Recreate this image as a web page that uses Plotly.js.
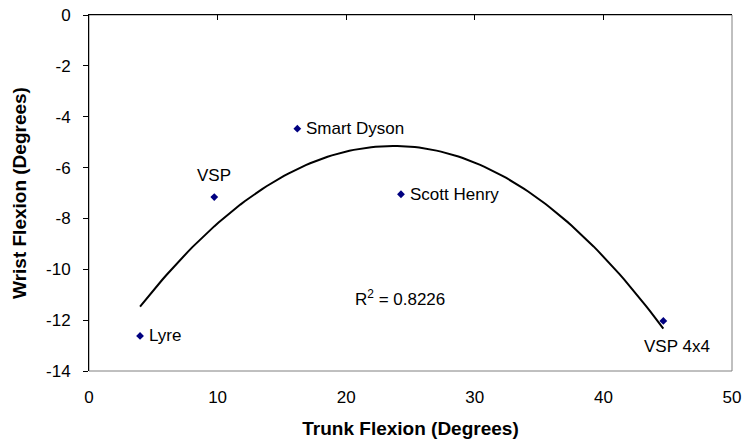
<!DOCTYPE html>
<html><head><meta charset="utf-8">
<script src="https://cdn.plot.ly/plotly-3.0.1.min.js"></script>
<style>html,body{margin:0;padding:0;background:#fff}#chart{width:745px;height:441px}</style>
</head><body><div id="chart"></div>
<script>
// Data
const labels = ["Lyre", "VSP", "Smart Dyson", "Scott Henry", "VSP 4x4"];
const trunkFlexion = [3.97, 9.74, 16.2, 24.26, 44.66];
const wristFlexion = [-12.62, -7.16, -4.47, -7.05, -12.03];
const r2Text = "R<sup>2</sup> = 0.8226";
const xTicks = [0, 10, 20, 30, 40, 50];
const yTicks = [0, -2, -4, -6, -8, -10, -12, -14];

// Second-order polynomial trend (least squares) from the data
function polyFit2(xs, ys) {
  let S = [0,0,0,0,0], T = [0,0,0];
  for (let i = 0; i < xs.length; i++) {
    let p = 1;
    for (let k = 0; k < 5; k++) { S[k] += p; if (k < 3) T[k] += p * ys[i]; p *= xs[i]; }
  }
  const A = [[S[0],S[1],S[2],T[0]],[S[1],S[2],S[3],T[1]],[S[2],S[3],S[4],T[2]]];
  for (let c = 0; c < 3; c++) {
    for (let r = c + 1; r < 3; r++) {
      const f = A[r][c] / A[c][c];
      for (let k = c; k < 4; k++) A[r][k] -= f * A[c][k];
    }
  }
  const b = [0,0,0];
  for (let r = 2; r >= 0; r--) {
    let s = A[r][3];
    for (let k = r + 1; k < 3; k++) s -= A[r][k] * b[k];
    b[r] = s / A[r][r];
  }
  return b;
}
const coef = polyFit2(trunkFlexion, wristFlexion);
const xMin = Math.min(...trunkFlexion), xMax = Math.max(...trunkFlexion);
const trendX = [], trendY = [];
for (let i = 0; i <= 120; i++) {
  const x = xMin + (xMax - xMin) * i / 120;
  trendX.push(x); trendY.push(coef[0] + coef[1] * x + coef[2] * x * x);
}

const FONT = "Arial, 'Liberation Sans', sans-serif";

const traces = [
  { x: trendX, y: trendY, mode: "lines", line: { color: "#000", width: 2 },
    xaxis: "x2", yaxis: "y", hoverinfo: "skip", showlegend: false },
  { x: trunkFlexion, y: wristFlexion, mode: "markers", text: labels,
    marker: { symbol: "diamond", color: "#000080", size: 6 },
    showlegend: false }
];

// label offsets (pixels) relative to each point
const labelPos = {
  "Lyre": { xanchor: "left", yanchor: "middle", xshift: 7, yshift: 0 },
  "VSP": { xanchor: "center", yanchor: "middle", xshift: 0, yshift: 22 },
  "Smart Dyson": { xanchor: "left", yanchor: "middle", xshift: 7, yshift: 0 },
  "Scott Henry": { xanchor: "left", yanchor: "middle", xshift: 7, yshift: 0 },
  "VSP 4x4": { xanchor: "center", yanchor: "middle", xshift: 14, yshift: -26 }
};
const annotations = labels.map((t, i) => Object.assign({
  x: trunkFlexion[i], y: wristFlexion[i], xref: "x", yref: "y", text: t,
  showarrow: false, font: { family: FONT, size: 17, color: "#000" }
}, labelPos[t]));
annotations.push({ x: 24.2, y: -11.13, xref: "x", yref: "y", text: r2Text,
  showarrow: false, font: { family: FONT, size: 17, color: "#000" } });

const layout = {
  width: 745, height: 441,
  margin: { l: 89, r: 13, t: 15, b: 70 },
  paper_bgcolor: "#fff", plot_bgcolor: "#fff",
  font: { family: FONT, size: 17, color: "#000" },
  xaxis: {
    range: [0, 50], tickvals: xTicks, ticktext: xTicks.map(String),
    showgrid: false, zeroline: false, showline: false, ticks: "",
    ticklabelstandoff: 14, side: "bottom",
    title: { text: "<b>Trunk Flexion (Degrees)</b>", font: { family: FONT, size: 19 }, standoff: 15 },
    fixedrange: true
  },
  xaxis2: {
    range: [0, 50], tickvals: xTicks, overlaying: "x", side: "top",
    showgrid: false, zeroline: false, showline: true, linecolor: "#000", linewidth: 1,
    ticks: "inside", ticklen: 5, tickcolor: "#000", showticklabels: false,
    fixedrange: true
  },
  yaxis: {
    range: [-14, 0], tickvals: yTicks, ticktext: yTicks.map(String),
    showgrid: false, zeroline: false, showline: true, linecolor: "#000", linewidth: 1,
    ticks: "outside", ticklen: 5, tickcolor: "#000", ticklabelstandoff: 9,
    title: { text: "<b>Wrist Flexion (Degrees)</b>", font: { family: FONT, size: 19 }, standoff: 14 },
    fixedrange: true
  },
  shapes: [{ type: "rect", xref: "paper", yref: "paper", x0: 0, x1: 1, y0: 0, y1: 1,
    line: { color: "#808080", width: 1 }, layer: "below" }],
  annotations: annotations
};

Plotly.newPlot("chart", traces, layout, { displayModeBar: false, staticPlot: true });
</script></body></html>
